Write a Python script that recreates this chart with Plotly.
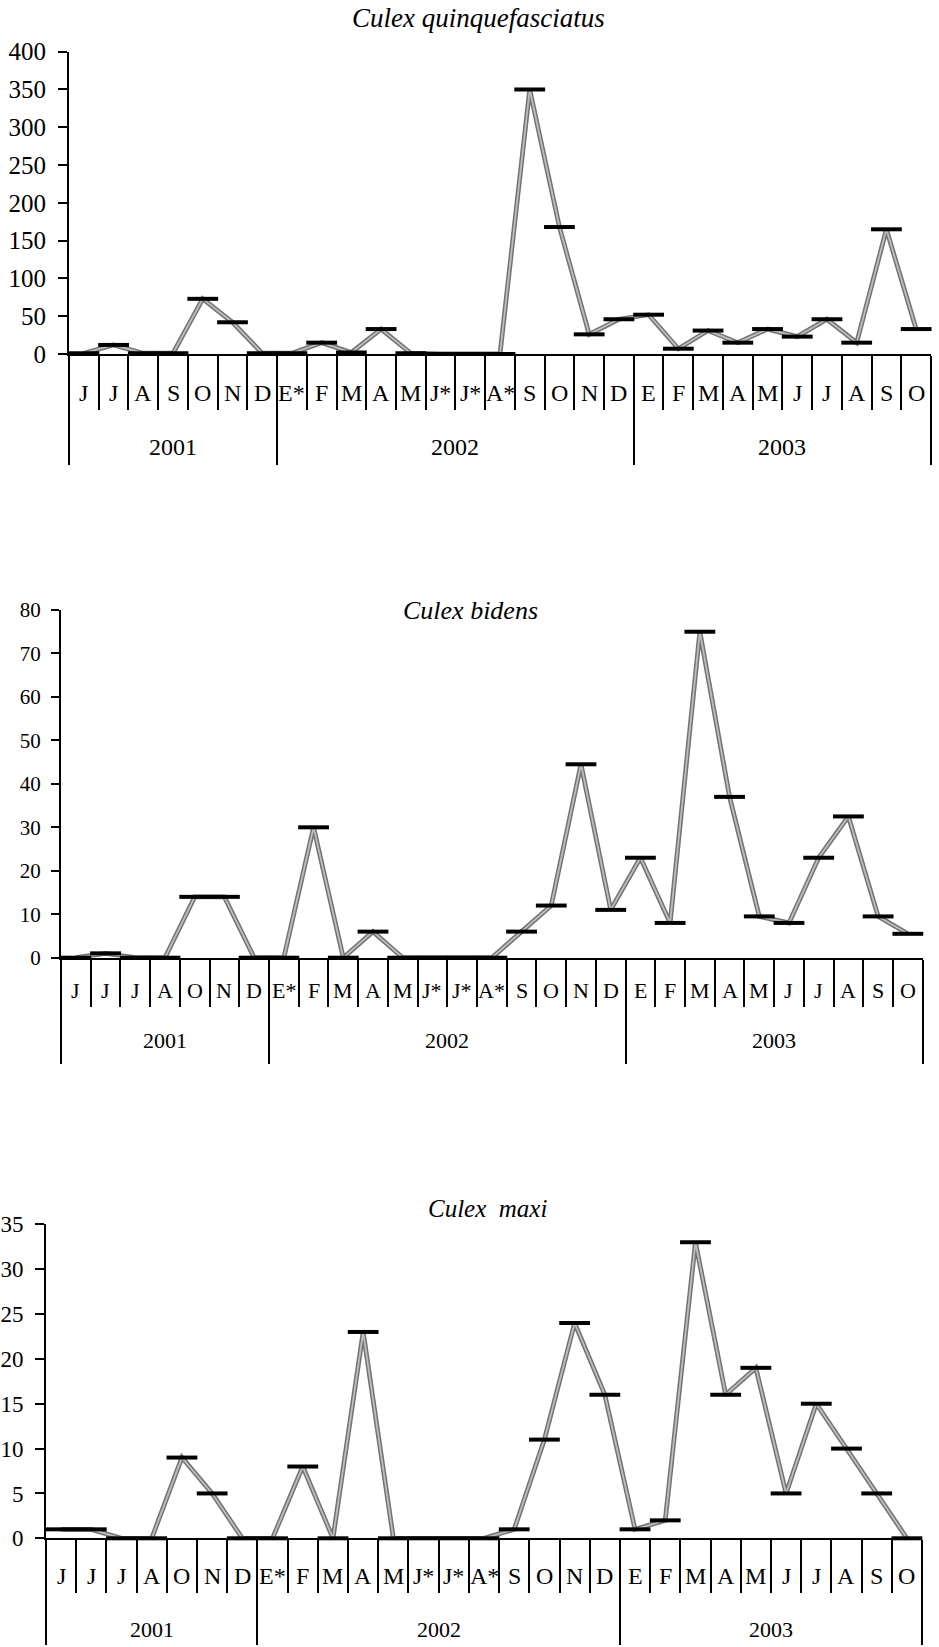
import numpy as np
import plotly.graph_objects as go

W, H = 939, 1647

# ---------------- data ----------------
years = ["2001", "2002", "2003"]
year_sizes = [7, 12, 10]

months_quinq = ["J", "J", "A", "S", "O", "N", "D",
                "E*", "F", "M", "A", "M", "J*", "J*", "A*", "S", "O", "N", "D",
                "E", "F", "M", "A", "M", "J", "J", "A", "S", "O"]
months_other = ["J", "J", "J", "A", "O", "N", "D",
                "E*", "F", "M", "A", "M", "J*", "J*", "A*", "S", "O", "N", "D",
                "E", "F", "M", "A", "M", "J", "J", "A", "S", "O"]

quinq = [1, 12, 1, 1, 73, 42, 1,
         1, 15, 2, 33, 1, 0, 0, 0, 350, 168, 26, 46,
         52, 7, 31, 15, 33, 23, 46, 15, 165, 33]
bidens = [0, 1, 0, 0, 14, 14, 0,
          0, 30, 0, 6, 0, 0, 0, 0, 6, 12, 44.5, 11,
          23, 8, 75, 37, 9.5, 8, 23, 32.5, 9.5, 5.5]
maxi = [1, 1, 0, 0, 9, 5, 0,
        0, 8, 0, 23, 0, 0, 0, 0, 1, 11, 24, 16,
        1, 2, 33, 16, 19, 5, 15, 10, 5, 0]

titles = ["Culex quinquefasciatus", "Culex bidens", "Culex  maxi"]

# ---------------- layout specs (pixels) ----------------
panels = [
    dict(vals=quinq, months=months_quinq, title=titles[0],
         x0=69, x1=931, ytop=51.7, ybot=354, ymax=400, dtick=50,
         yfont=25, ytl=9, ystand=7, mfont=24, yfont2=24, tfont=27,
         month_y=393, year_y=447, mtick=54, ytick_div=109,
         title_x=478, title_y=18),
    dict(vals=bidens, months=months_other, title=titles[1],
         x0=61, x1=922.7, ytop=610, ybot=957.7, ymax=80, dtick=10,
         yfont=21, ytl=8, ystand=6, mfont=22, yfont2=22, tfont=26,
         month_y=990, year_y=1040, mtick=47, ytick_div=104,
         title_x=470, title_y=610),
    dict(vals=maxi, months=months_other, title=titles[2],
         x0=46, x1=922, ytop=1224.3, ybot=1538.3, ymax=35, dtick=5,
         yfont=23, ytl=9, ystand=7, mfont=24, yfont2=22, tfont=25,
         month_y=1576, year_y=1629, mtick=53, ytick_div=105,
         title_x=487, title_y=1208),
]

FONT = "Liberation Serif"
fig = go.Figure()
annotations = []
layout = {}

boundaries = [0] + [int(v) for v in np.cumsum(year_sizes)]

for k, p in enumerate(panels):
    idx = "" if k == 0 else str(k + 1)
    xa, ya = "x" + idx, "y" + idx
    n = len(p["vals"])
    xs = np.arange(n) + 0.5

    # textured grey line: dark outer + light inner
    fig.add_trace(go.Scatter(x=xs, y=p["vals"], mode="lines",
                             line=dict(color="#737373", width=4.8),
                             xaxis=xa, yaxis=ya, showlegend=False,
                             cliponaxis=False, hoverinfo="skip"))
    fig.add_trace(go.Scatter(x=xs, y=p["vals"], mode="lines",
                             line=dict(color="#bdbdbd", width=1.8),
                             xaxis=xa, yaxis=ya, showlegend=False,
                             cliponaxis=False, hoverinfo="skip"))
    fig.add_trace(go.Scatter(x=xs, y=p["vals"], mode="markers",
                             marker=dict(symbol="line-ew", size=22,
                                         line=dict(color="black", width=4)),
                             xaxis=xa, yaxis=ya, showlegend=False,
                             cliponaxis=False))

    layout["xaxis" + idx] = dict(
        domain=[p["x0"] / W, p["x1"] / W], anchor=ya, automargin=False,
        range=[0, n], showgrid=False, zeroline=False,
        showline=True, linecolor="black", linewidth=2,
        tickmode="array", tickvals=boundaries, ticks="outside",
        ticklen=p["ytick_div"], tickwidth=2, tickcolor="black",
        showticklabels=False,
        minor=dict(tickmode="linear", tick0=0, dtick=1, ticks="outside",
                   ticklen=p["mtick"], tickwidth=2, tickcolor="black"),
    )
    layout["yaxis" + idx] = dict(
        domain=[1 - p["ybot"] / H, 1 - p["ytop"] / H], anchor=xa,
        automargin=False, ticklabeloverflow="allow",
        range=[0, p["ymax"]], dtick=p["dtick"], tick0=0,
        showgrid=False, zeroline=False,
        showline=True, linecolor="black", linewidth=2,
        ticks="outside", ticklen=p["ytl"], tickwidth=2, tickcolor="black",
        ticklabelstandoff=p["ystand"],
        tickfont=dict(family=FONT, size=p["yfont"], color="black"),
    )

    # month labels
    for i, m in enumerate(p["months"]):
        annotations.append(dict(x=i + 0.5, xref=xa, y=1 - p["month_y"] / H,
                                yref="paper", text=m, showarrow=False,
                                xanchor="center", yanchor="middle",
                                font=dict(family=FONT, size=p["mfont"], color="black")))
    # year labels
    for j, yr in enumerate(years):
        cx = (boundaries[j] + boundaries[j + 1]) / 2
        annotations.append(dict(x=cx, xref=xa, y=1 - p["year_y"] / H,
                                yref="paper", text=yr, showarrow=False,
                                xanchor="center", yanchor="middle",
                                font=dict(family=FONT, size=p["yfont2"], color="black")))
    # title
    annotations.append(dict(x=p["title_x"] / W, xref="paper", y=1 - p["title_y"] / H,
                            yref="paper", text="<i>" + p["title"] + "</i>",
                            showarrow=False, xanchor="center", yanchor="middle",
                            font=dict(family=FONT, size=p["tfont"], color="black")))

fig.update_layout(width=W, height=H,
                  margin=dict(l=0, r=0, t=0, b=0, pad=0, autoexpand=False),
                  paper_bgcolor="white", plot_bgcolor="white",
                  showlegend=False, annotations=annotations, **layout)

fig.write_html("out.html", config={"displayModeBar": False},
               post_script="document.body.style.margin='0';document.body.style.padding='0';")
